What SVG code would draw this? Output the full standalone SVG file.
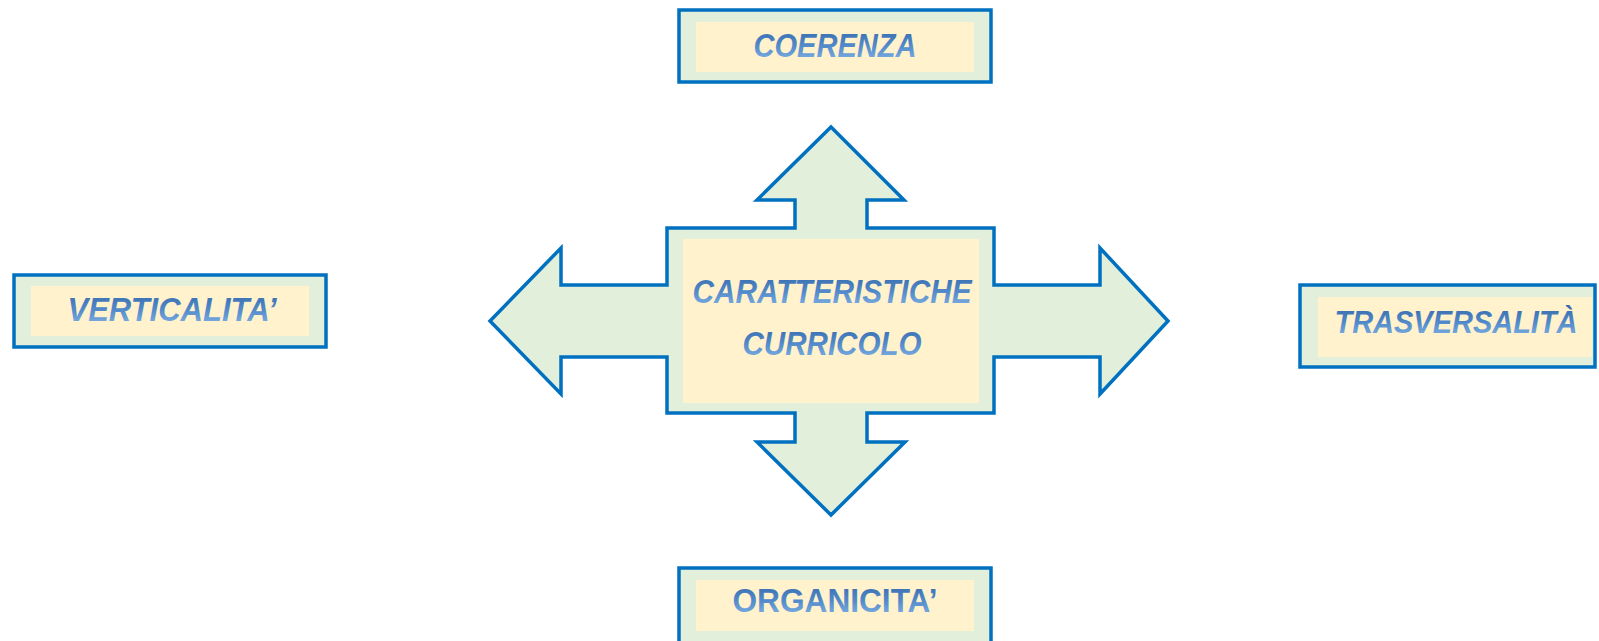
<svg xmlns="http://www.w3.org/2000/svg" width="1599" height="641" viewBox="0 0 1599 641">
  <defs>
    <linearGradient id="tg" x1="0" y1="0" x2="0" y2="1">
      <stop offset="0" stop-color="#3469AB"/>
      <stop offset="0.5" stop-color="#5189CA"/>
      <stop offset="1" stop-color="#88B8E8"/>
    </linearGradient>
  </defs>
  <style>
    .outer { fill: #E2EFDA; stroke: #0070C0; stroke-width: 3.5; }
    .inner { fill: #FFF2CC; }
    .lbl { font-family: "Liberation Sans", Arial, sans-serif; font-weight: bold; font-size: 33px; fill: url(#tg); text-anchor: middle; }
    .it { font-style: italic; }
    .sm { font-size: 31px; }
  </style>
  <rect width="1599" height="641" fill="#FFFFFF"/>

  <g id="connectors">
    <polygon class="outer" stroke-linejoin="miter" points="831,127 904,200 867,200 867,228 994,228 994,285 1100,285 1100,248 1168,321 1100,394 1100,357 994,357 994,413 867,413 867,442 905,442 831,515 757,442 795,442 795,413 667,413 667,357 561,357 561,394 490,321 561,248 561,285 667,285 667,228 795,228 795,200 757,200"/>
  </g>

  <g id="center">
    <rect class="inner" x="683" y="239" width="296" height="164"/>
    <text class="lbl it" x="832" y="303" textLength="279" lengthAdjust="spacingAndGlyphs">CARATTERISTICHE</text>
    <text class="lbl it" x="832" y="355" textLength="179" lengthAdjust="spacingAndGlyphs">CURRICOLO</text>
  </g>

  <g id="coerenza">
    <rect class="outer" x="679" y="10" width="312" height="72"/>
    <rect class="inner" x="696" y="22" width="278" height="50"/>
    <text class="lbl it" x="835" y="57" textLength="163" lengthAdjust="spacingAndGlyphs">COERENZA</text>
  </g>

  <g id="verticalita">
    <rect class="outer" x="14" y="275" width="312" height="72"/>
    <rect class="inner" x="31" y="286" width="278" height="50"/>
    <text class="lbl it" x="172" y="321" textLength="209" lengthAdjust="spacingAndGlyphs">VERTICALITA’</text>
  </g>

  <g id="trasversalita">
    <rect class="outer" x="1300" y="285" width="295" height="82"/>
    <rect class="inner" x="1318" y="297" width="274" height="60"/>
    <text class="lbl it sm" x="1456" y="333" textLength="243" lengthAdjust="spacingAndGlyphs">TRASVERSALITÀ</text>
  </g>

  <g id="organicita">
    <rect class="outer" x="679" y="568" width="312" height="80"/>
    <rect class="inner" x="696" y="580" width="278" height="51"/>
    <text class="lbl" x="835" y="612" textLength="205" lengthAdjust="spacingAndGlyphs">ORGANICITA’</text>
  </g>
</svg>
